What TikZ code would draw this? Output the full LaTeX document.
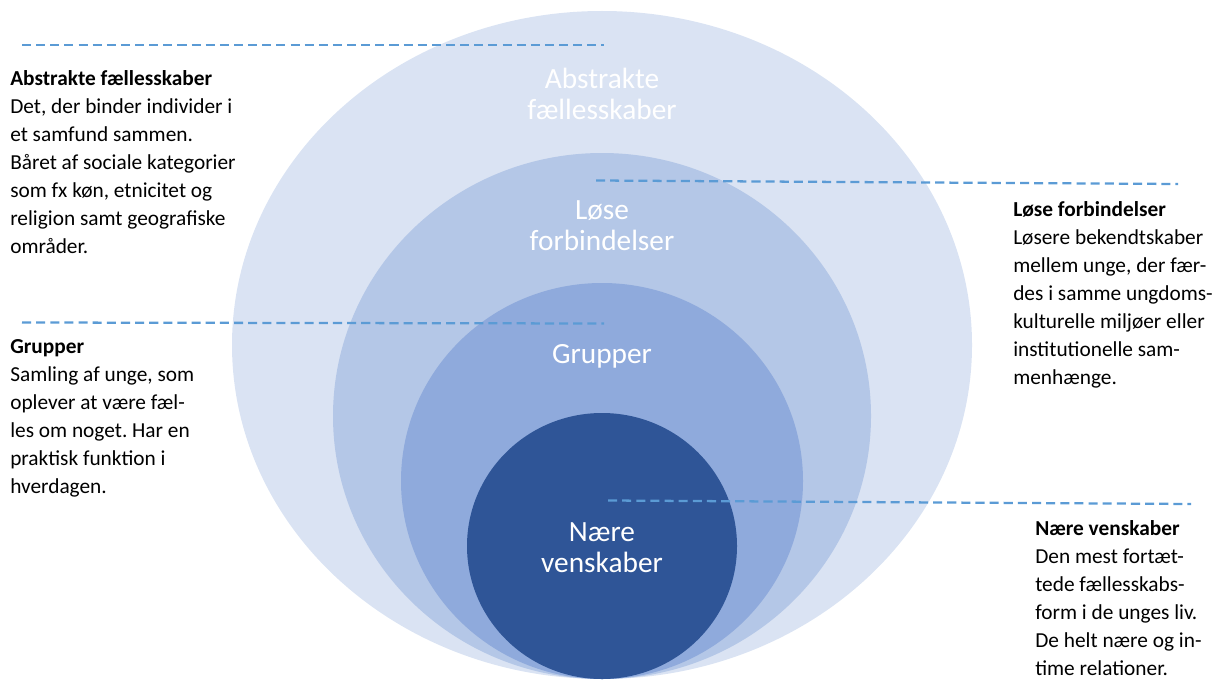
\documentclass[tikz,border=0pt]{standalone}
\usepackage{fontspec}
\setmainfont{Carlito}
\frenchspacing
\usetikzlibrary{shapes.geometric}
\definecolor{ringA}{HTML}{DAE3F3}
\definecolor{ringB}{HTML}{B4C7E7}
\definecolor{ringC}{HTML}{8FAADC}
\definecolor{ringD}{HTML}{2F5597}
\definecolor{dashc}{HTML}{5B9BD5}
\begin{document}
\begin{tikzpicture}[x=0.75pt,y=-0.75pt,
  ring/.style={ellipse,inner sep=0pt,outer sep=0pt,draw=none},
  leader/.style={draw=dashc,line width=1.7pt,dash pattern=on 6.8pt off 3.8pt},
  sidetext/.style={anchor=north west,inner sep=0pt,align=left,text=black,
    font=\fontsize{16}{21}\selectfont},
  ringlabel/.style={anchor=north,inner sep=0pt,align=center,text=white,
    font=\fontsize{22}{23.25}\selectfont}]
\useasboundingbox (0,0) rectangle (1219,681);
% rings
\node[ring,fill=ringA,minimum width=555pt,minimum height=501pt] (outer) at (602,345) {};
\node[ring,fill=ringB,minimum width=403.5pt,minimum height=394.5pt] (loose) at (602,416) {};
\node[ring,fill=ringC,minimum width=301.5pt,minimum height=297pt] (groups) at (602,481) {};
\node[ring,fill=ringD,minimum width=202.5pt,minimum height=199.5pt] (close) at (602,546) {};
% ring labels
\node[ringlabel] (labA) at (602,64) {\rule{0pt}{18pt}Abstrakte\\fællesskaber};
\node[ringlabel] (labB) at (602,195) {\rule{0pt}{18pt}Løse\\forbindelser};
\node[ringlabel] (labC) at (602,339) {\rule{0pt}{18pt}Grupper};
\node[ringlabel] (labD) at (602,517) {\rule{0pt}{18pt}Nære\\venskaber};
% leader lines
\coordinate (a1) at (22,45);
\coordinate (a2) at (604,45);
\coordinate (b1) at (596,180.5);
\coordinate (b2) at (1178,184);
\coordinate (c1) at (22,322.5);
\coordinate (c2) at (604,323.5);
\coordinate (d1) at (608,500.5);
\coordinate (d2) at (1191,504);
\draw[leader] (a1) -- (a2);
\draw[leader] (b1) -- (b2);
\draw[leader] (c1) -- (c2);
\draw[leader] (d1) -- (d2);
% side texts
\node[sidetext] (txtA) at (10,69) {\rule{0pt}{12pt}\textbf{Abstrakte fællesskaber}\\
Det, der binder individer i\\
et samfund sammen.\\
Båret af sociale kategorier\\
som fx køn, etnicitet og\\
religion samt geografiske\\
områder.};
\node[sidetext] (txtC) at (10,337) {\rule{0pt}{12pt}\textbf{Grupper}\\
Samling af unge, som\\
oplever at være fæl-\\
les om noget. Har en\\
praktisk funktion i\\
hverdagen.};
\node[sidetext] (txtB) at (1013,200) {\rule{0pt}{12pt}\textbf{Løse forbindelser}\\
Løsere bekendtskaber\\
mellem unge, der fær-\\
des i samme ungdoms-\\
kulturelle miljøer eller\\
institutionelle sam-\\
menhænge.};
\node[sidetext] (txtD) at (1035,519) {\rule{0pt}{12pt}\textbf{Nære venskaber}\\
Den mest fortæt-\\
tede fællesskabs-\\
form i de unges liv.\\
De helt nære og in-\\
time relationer.};
\end{tikzpicture}
\end{document}
